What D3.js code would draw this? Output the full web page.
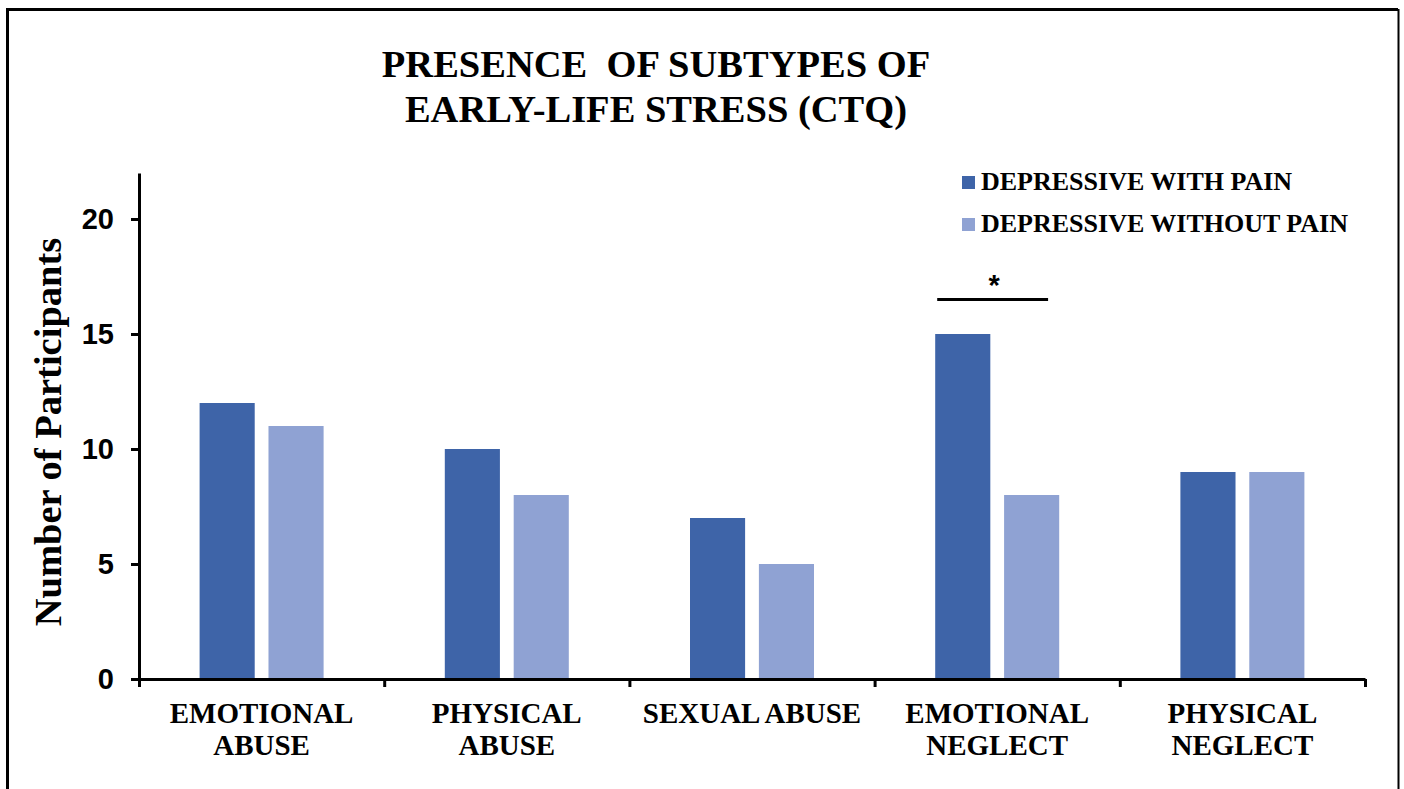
<!DOCTYPE html>
<html>
<head>
<meta charset="utf-8">
<script src="https://cdn.jsdelivr.net/npm/d3@7"></script>
<style>
  body { margin: 0; background: #fff; }
  svg { display: block; }
</style>
</head>
<body>
<div id="chart"></div>
<script>
// data
const categories = ['EMOTIONAL ABUSE', 'PHYSICAL ABUSE', 'SEXUAL ABUSE', 'EMOTIONAL NEGLECT', 'PHYSICAL NEGLECT'];
const categoryLines = [['EMOTIONAL', 'ABUSE'], ['PHYSICAL', 'ABUSE'], ['SEXUAL ABUSE'], ['EMOTIONAL', 'NEGLECT'], ['PHYSICAL', 'NEGLECT']];
const seriesNames = ['DEPRESSIVE WITH PAIN', 'DEPRESSIVE WITHOUT PAIN'];
const withPain = [12, 10, 7, 15, 9];
const withoutPain = [11, 8, 5, 8, 9];
const yTicks = [0, 5, 10, 15, 20];
const yMax = 22;
// significance bracket
const sigCategory = 'EMOTIONAL NEGLECT';
const sigLevel = 16.5;
const sigMark = '*';

const titleLines = ['PRESENCE  OF SUBTYPES OF', 'EARLY-LIFE STRESS (CTQ)'];
const yTitle = 'Number of Participants';

const width = 1404;
const height = 789;
const margin = {top: 173, right: 39, bottom: 110, left: 139};

const colours = ['#3E64A8', '#8FA2D3'];
const serif = '"Liberation Serif", "Times New Roman", serif';
const sans = '"Liberation Sans", Arial, sans-serif';

const svg = d3.select('#chart')
    .append('svg')
        .attr('width', width)
        .attr('height', height);

// frame around the figure
svg.append('path')
    .attr('d', `M7.5,${height} V9.5 H1398`)
    .attr('fill', 'none')
    .attr('stroke', '#000')
    .attr('stroke-width', 3);
svg.append('line')
    .attr('x1', 1398.5).attr('x2', 1398.5)
    .attr('y1', 9).attr('y2', height)
    .attr('stroke', '#000')
    .attr('stroke-width', 2);

// SCALES
const x0 = d3.scaleBand()
    .domain(categories)
    .range([margin.left, width - margin.right]);
const x1 = d3.scaleBand()
    .domain(seriesNames)
    .range([x0.bandwidth() / 2 - 62, x0.bandwidth() / 2 + 62])
    .paddingInner(0.2);
const xEdge = d3.scaleLinear()
    .domain([0, categories.length])
    .range([margin.left, width - margin.right]);
const y = d3.scaleLinear()
    .domain([0, yMax])
    .range([height - margin.bottom, margin.top]);

const rows = categories.map((c, i) => ({cat: c, vals: [withPain[i], withoutPain[i]]}));

// bars
svg.append('g')
    .selectAll('g')
    .data(rows)
    .join('g')
        .attr('transform', d => `translate(${x0(d.cat)},0)`)
    .selectAll('rect')
    .data(d => d.vals.map((v, j) => ({s: seriesNames[j], v: v, j: j})))
    .join('rect')
        .attr('x', d => x1(d.s))
        .attr('y', d => y(d.v))
        .attr('width', x1.bandwidth())
        .attr('height', d => y(0) - y(d.v))
        .attr('fill', d => colours[d.j]);

// AXES
svg.append('g')
    .attr('transform', `translate(${margin.left},0)`)
    .call(d3.axisLeft(y).tickValues(yTicks).tickSize(8).tickSizeOuter(0).tickPadding(17))
    .call(g => g.select('.domain').attr('stroke-width', 3))
    .call(g => g.selectAll('.tick line').attr('stroke-width', 3))
    .call(g => g.selectAll('.tick text')
        .attr('font-family', sans)
        .attr('font-weight', 'bold')
        .attr('font-size', 29)
        .attr('fill', '#000'));

svg.append('g')
    .attr('transform', `translate(0,${y(0)})`)
    .call(d3.axisBottom(xEdge).ticks(categories.length).tickSize(8).tickSizeOuter(0).tickFormat(''))
    .call(g => g.select('.domain').attr('stroke-width', 3))
    .call(g => g.selectAll('.tick line').attr('stroke-width', 3));

// category labels
const catLabels = svg.append('g')
    .selectAll('text')
    .data(categories)
    .join('text')
        .attr('x', d => x0(d) + x0.bandwidth() / 2)
        .attr('y', y(0) + 44)
        .attr('text-anchor', 'middle')
        .attr('font-family', serif)
        .attr('font-weight', 'bold')
        .attr('font-size', 29)
        .attr('fill', '#000');
catLabels.selectAll('tspan')
    .data((d, i) => categoryLines[i])
    .join('tspan')
        .attr('x', function() { return d3.select(this.parentNode).attr('x'); })
        .attr('dy', (d, i) => i === 0 ? 0 : 32)
        .text(d => d);

// y title
svg.append('text')
    .attr('transform', `translate(61,${(y(0) + margin.top) / 2 + 6}) rotate(-90)`)
    .attr('text-anchor', 'middle')
    .attr('font-family', serif)
    .attr('font-weight', 'bold')
    .attr('font-size', 38.5)
    .attr('fill', '#000')
    .text(yTitle);

// title
svg.append('g')
    .selectAll('text')
    .data(titleLines)
    .join('text')
        .attr('x', 656)
        .attr('y', (d, i) => 77 + i * 45)
        .attr('text-anchor', 'middle')
        .attr('font-family', serif)
        .attr('font-weight', 'bold')
        .attr('font-size', 38.5)
        .attr('fill', '#000')
        .style('white-space', 'pre')
        .text(d => d);

// legend
const legend = svg.append('g')
    .attr('transform', 'translate(962,176)');
const items = legend.selectAll('g')
    .data(seriesNames)
    .join('g')
        .attr('transform', (d, i) => `translate(0,${i * 42})`);
items.append('rect')
    .attr('width', 13)
    .attr('height', 13)
    .attr('fill', (d, i) => colours[i]);
items.append('text')
    .attr('x', 19)
    .attr('y', 14)
    .attr('font-family', serif)
    .attr('font-weight', 'bold')
    .attr('font-size', 26)
    .attr('fill', '#000')
    .text(d => d);

// significance marker
const sx = x0(sigCategory);
svg.append('line')
    .attr('x1', sx + x1(seriesNames[0]) + 2)
    .attr('x2', sx + x1(seriesNames[1]) + 44)
    .attr('y1', y(sigLevel))
    .attr('y2', y(sigLevel))
    .attr('stroke', '#000')
    .attr('stroke-width', 3);
svg.append('text')
    .attr('x', sx + x0.bandwidth() / 2 - 3)
    .attr('y', y(sigLevel) - 5)
    .attr('text-anchor', 'middle')
    .attr('font-family', sans)
    .attr('font-weight', 'bold')
    .attr('font-size', 29)
    .attr('fill', '#000')
    .text(sigMark);
</script>
</body>
</html>
